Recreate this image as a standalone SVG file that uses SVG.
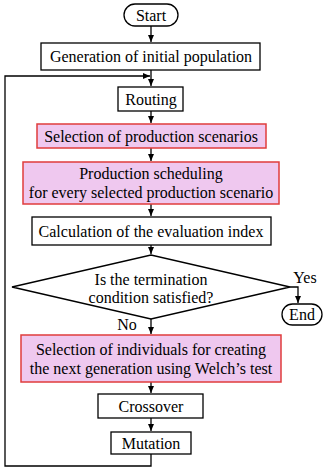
<svg xmlns="http://www.w3.org/2000/svg" width="323" height="470" viewBox="0 0 323 470">
<style>
text{font-family:'Liberation Serif','Times New Roman',serif;font-size:16px;fill:#000;text-anchor:middle}
.b{fill:#fff;stroke:#000;stroke-width:1.3}
.p{fill:#efc8ef;stroke:#e03c3c;stroke-width:1.5}
.c{fill:none;stroke:#000;stroke-width:1.3}
</style>
<defs>
<marker id="ah" markerWidth="8" markerHeight="8" refX="7" refY="4" orient="auto" markerUnits="userSpaceOnUse">
<path d="M0,1 L7,4 L0,7 Z" fill="#000"/>
</marker>
</defs>
<g id="connectors">
<path class="c" d="M151,26 V42" marker-end="url(#ah)"/>
<path class="c" d="M151,70 V86" marker-end="url(#ah)"/>
<path class="c" d="M151,454 V466 H5 V76 H150" marker-end="url(#ah)"/>
<path class="c" d="M151,111 V123" marker-end="url(#ah)"/>
<path class="c" d="M151,148 V161" marker-end="url(#ah)"/>
<path class="c" d="M151,204 V216" marker-end="url(#ah)"/>
<path class="c" d="M151,245 V254" marker-end="url(#ah)"/>
<path class="c" d="M151,319 V334" marker-end="url(#ah)"/>
<path class="c" d="M290,287 H298 V303" marker-end="url(#ah)"/>
<path class="c" d="M151,382 V393" marker-end="url(#ah)"/>
<path class="c" d="M151,418 V431" marker-end="url(#ah)"/>
</g>
<g id="start">
<rect class="b" x="124" y="4" width="54" height="22" rx="11"/>
<text x="151" y="20.5">Start</text>
</g>
<g id="generation">
<rect class="b" x="41" y="43" width="219" height="27"/>
<text x="151" y="62">Generation of initial population</text>
</g>
<g id="routing">
<rect class="b" x="118" y="87" width="65" height="24"/>
<text x="151" y="104.5">Routing</text>
</g>
<g id="selection-scenarios">
<rect class="p" x="37" y="124" width="229" height="24"/>
<text x="151" y="141.5">Selection of production scenarios</text>
</g>
<g id="production-scheduling">
<rect class="p" x="23" y="162" width="256" height="42"/>
<text x="151" y="179">Production scheduling</text>
<text x="151" y="197.5">for every selected production scenario</text>
</g>
<g id="calculation">
<rect class="b" x="32" y="217" width="239" height="28"/>
<text x="151" y="236.5">Calculation of the evaluation index</text>
</g>
<g id="decision">
<polygon class="b" points="12,287 151,255 290,287 151,319"/>
<text x="151" y="285">Is the termination</text>
<text x="151" y="303">condition satisfied?</text>
<text x="305" y="283">Yes</text>
<text x="127" y="330">No</text>
</g>
<g id="end">
<rect class="b" x="282" y="304" width="40" height="21" rx="10.5"/>
<text x="302" y="320">End</text>
</g>
<g id="selection-individuals">
<rect class="p" x="21" y="335" width="260" height="47"/>
<text x="151" y="355">Selection of individuals for creating</text>
<text x="151" y="373.5">the next generation using Welch’s test</text>
</g>
<g id="crossover">
<rect class="b" x="98" y="394" width="105" height="24"/>
<text x="151" y="411.5">Crossover</text>
</g>
<g id="mutation">
<rect class="b" x="111" y="432" width="80" height="22"/>
<text x="151" y="448.5">Mutation</text>
</g>
</svg>
